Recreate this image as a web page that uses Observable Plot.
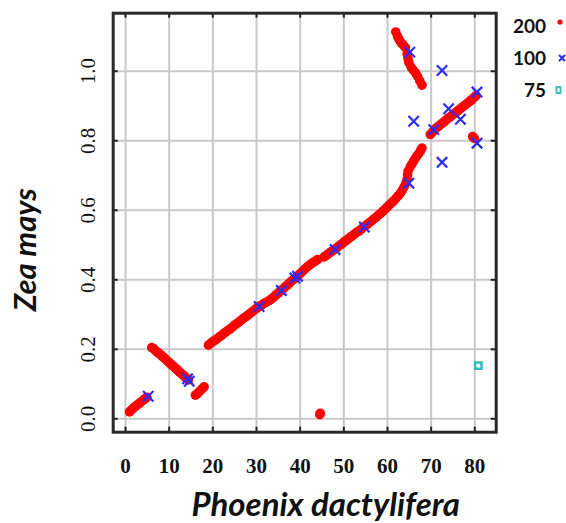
<!DOCTYPE html>
<html>
<head>
<meta charset="utf-8">
<script src="https://cdn.jsdelivr.net/npm/d3@7"></script>
<script src="https://cdn.jsdelivr.net/npm/@observablehq/plot@0.6"></script>
<style>
  html, body { margin: 0; padding: 0; background: #fff; }
  #wrap { position: relative; width: 566px; height: 523px; overflow: hidden; }
  g[aria-label="ytick"] text { letter-spacing: 5px; }
  g[aria-label="xtitle"] text { letter-spacing: 2.8px; word-spacing: -8px; }
  g[aria-label="ytitle"] text { letter-spacing: 2.5px; }
  .leg { position: absolute; font-family: Lato, sans-serif; font-weight: bold; font-size: 19px; color: #111; text-align: right; width: 41px; line-height: 20px; }
  .sym { position: absolute; }
</style>
</head>
<body>
<div id="wrap"></div>
<script>
const xTicks = [0, 10, 20, 30, 40, 50, 60, 70, 80];
const yTicks = [0, 0.2, 0.4, 0.6, 0.8, 1.0];
const seriesNames = ["200", "100", "75"];

// window size 200 (red dots)
const series200 = [
  [0.9,0.020],[1.3,0.025],[1.7,0.030],[2.1,0.034],[2.5,0.038],[2.9,0.042],[3.3,0.046],[3.7,0.050],[4.1,0.054],[4.5,0.058],[4.9,0.062],
  [6.0,0.205],[6.4,0.202],[6.8,0.197],[7.2,0.193],[7.6,0.188],[8.0,0.185],[8.4,0.180],[8.8,0.176],[9.2,0.171],[9.6,0.166],[10.0,0.162],
  [10.4,0.157],[10.8,0.153],[11.2,0.148],[11.6,0.144],[12.0,0.139],[12.4,0.134],[12.8,0.130],[13.2,0.126],[13.6,0.121],[14.0,0.116],[14.4,0.112],
  [16.0,0.068],[16.4,0.072],[16.8,0.077],[17.2,0.082],[17.6,0.087],[18.0,0.092],
  [19.0,0.212],[19.5,0.217],[20.0,0.222],[20.5,0.226],[21.0,0.231],[21.5,0.236],[22.0,0.240],[22.5,0.245],[23.0,0.250],[23.5,0.255],
  [24.0,0.259],[24.5,0.264],[25.0,0.270],[25.5,0.274],[26.0,0.279],[26.5,0.284],[27.0,0.289],[27.5,0.293],[28.0,0.298],[28.5,0.303],
  [29.0,0.308],[29.5,0.313],[30.0,0.318],[30.5,0.322],[31.0,0.326],[31.5,0.330],[32.0,0.334],[32.5,0.337],[33.0,0.341],[33.5,0.346],
  [34.0,0.351],[34.5,0.357],[35.0,0.362],[35.5,0.368],[36.0,0.373],[36.5,0.379],[37.0,0.384],[37.5,0.390],[38.0,0.396],[38.5,0.401],
  [39.0,0.406],[39.5,0.412],[40.0,0.418],[40.5,0.424],[41.0,0.430],[41.5,0.436],[42.0,0.441],[42.5,0.446],[43.0,0.450],[43.5,0.454],
  [44.0,0.458],[45.5,0.466],[46.0,0.470],[46.5,0.475],[47.0,0.480],[47.5,0.484],[48.0,0.488],[48.5,0.493],[49.0,0.498],[49.5,0.503],
  [50.0,0.508],[50.5,0.513],[51.0,0.518],[51.5,0.523],[52.0,0.527],[52.5,0.532],[53.0,0.537],[53.5,0.541],[54.0,0.546],[54.5,0.551],
  [55.0,0.556],[55.5,0.561],[56.0,0.566],[56.5,0.571],[57.0,0.576],[57.5,0.581],[58.0,0.587],[58.5,0.592],[59.0,0.598],[59.5,0.604],
  [60.0,0.610],[60.5,0.616],[61.0,0.622],[61.5,0.628],[62.0,0.635],[62.5,0.642],[63.0,0.650],[63.4,0.658],[63.8,0.667],[64.2,0.678],
  [64.5,0.690],[64.6,0.702],[64.7,0.712],[65.2,0.725],[65.6,0.733],[66.0,0.742],[66.4,0.750],[66.8,0.757],[67.2,0.764],[67.6,0.772],[67.9,0.779],
  [61.9,1.113],[62.3,1.100],[62.7,1.090],[63.1,1.082],[63.6,1.076],[64.1,1.068],[64.5,1.050],[64.7,1.036],[64.9,1.025],[65.4,1.012],
  [65.9,1.003],[66.4,0.995],[66.9,0.985],[67.4,0.972],[67.9,0.960],
  [69.8,0.818],[70.3,0.825],[70.8,0.832],[71.3,0.838],[71.8,0.843],[72.3,0.848],[72.8,0.853],[73.3,0.858],[73.8,0.864],[74.3,0.868],
  [74.8,0.873],[75.3,0.878],[75.8,0.883],[76.3,0.888],[76.8,0.893],[77.3,0.898],[77.8,0.903],[78.3,0.908],[78.8,0.913],[79.3,0.918],
  [79.8,0.924],[80.3,0.930],
  [79.5,0.812],[79.9,0.807],
  [44.5,0.012],[44.6,0.016]
];

// window size 100 (blue crosses)
const series100 = [
  [5.2,0.065],[14.2,0.115],[14.6,0.108],[30.6,0.323],[35.7,0.369],[38.8,0.405],[39.4,0.410],[48.0,0.487],[54.7,0.552],
  [64.9,0.678],[65.1,1.055],[72.5,1.002],[66.0,0.856],[74.0,0.892],[76.7,0.862],[70.6,0.832],[72.5,0.738],[80.5,0.940],[80.5,0.793]
];

// window size 75 (cyan squares)
const series75 = [[80.8,0.153]];

const W = 566, H = 523;
const mL = 112.7, mR = 70.3, mT = 12.7, mB = 91.3;
const frameH = H - mT - mB, frameW = W - mL - mR;
const tickLen = 5;

const chart = Plot.plot({
  width: W, height: H,
  marginLeft: mL, marginRight: mR, marginTop: mT, marginBottom: mB,
  x: {domain: [-2.82, 84.9], axis: null},
  y: {domain: [-0.0385, 1.167], axis: null},
  style: {background: "#fff", overflow: "visible"},
  marks: [
    Plot.ruleX(xTicks, {x: d => d, stroke: "#c9c9c9", strokeWidth: 2}),
    Plot.ruleY(yTicks, {y: d => d, stroke: "#c9c9c9", strokeWidth: 2}),
    Plot.ruleX(xTicks, {x: d => d, stroke: "#222", strokeWidth: 2, insetBottom: frameH - tickLen}),
    Plot.ruleX(xTicks, {x: d => d, stroke: "#222", strokeWidth: 2, insetTop: frameH - tickLen}),
    Plot.ruleY(yTicks, {y: d => d, stroke: "#222", strokeWidth: 2, insetRight: frameW - tickLen}),
    Plot.ruleY(yTicks, {y: d => d, stroke: "#222", strokeWidth: 2, insetLeft: frameW - tickLen}),
    Plot.frame({stroke: "#2a2a2a", strokeWidth: 3}),
    Plot.dot(series200, {x: d => d[0], y: d => d[1], r: 4.8, fill: "#ff0000", stroke: "none"}),
    Plot.dot(series100, {x: d => d[0], y: d => d[1], symbol: "times", r: 4.8, stroke: "#2b2bff", strokeWidth: 2.2}),
    Plot.dot(series75, {x: d => d[0], y: d => d[1], symbol: "square", r: 3.6, stroke: "#2fbcbc", strokeWidth: 2.5, fill: "none"}),
    Plot.text(xTicks, {x: d => d, frameAnchor: "bottom", dy: 34.5, text: d => String(d), lineAnchor: "middle", textAnchor: "middle",
      fontFamily: "Liberation Serif", fontWeight: "bold", fontSize: 21, fill: "#111"}),
    Plot.text(yTicks, {y: d => d, frameAnchor: "left", dx: -24.7, rotate: -90, text: d => d.toFixed(1), lineAnchor: "middle", textAnchor: "middle",
      fontFamily: "Liberation Serif", fontSize: 21, fill: "#111", ariaLabel: "ytick"}),
    Plot.text(["Phoenix dactylifera"], {frameAnchor: "bottom", dx: 21, dy: 73, text: d => d, lineAnchor: "middle", textAnchor: "middle",
      fontFamily: "Lato", fontWeight: "bold", fontStyle: "italic", fontSize: 33, fill: "#111", ariaLabel: "xtitle"}),
    Plot.text(["Zea mays"], {frameAnchor: "left", dx: -86.7, dy: 27, rotate: -90, text: d => d, lineAnchor: "middle", textAnchor: "middle",
      fontFamily: "Lato", fontWeight: "bold", fontStyle: "italic", fontSize: 31, fill: "#111", ariaLabel: "ytitle"})
  ]
});

const wrap = document.getElementById("wrap");
wrap.appendChild(chart);

// legend (HTML overlay)
const legendPos = [
  {top: 16, sym: "dot"},
  {top: 48, sym: "times"},
  {top: 80, sym: "square"}
];
seriesNames.forEach((name, i) => {
  const lab = document.createElement("div");
  lab.className = "leg";
  lab.style.left = "505px";
  lab.style.top = legendPos[i].top + "px";
  lab.textContent = name;
  wrap.appendChild(lab);
  const s = document.createElementNS("http://www.w3.org/2000/svg", "svg");
  s.setAttribute("class", "sym");
  s.setAttribute("width", 14); s.setAttribute("height", 14);
  s.style.left = "553px";
  s.style.top = (legendPos[i].top + (i === 0 ? 0 : 3)) + "px";
  let el;
  if (legendPos[i].sym === "dot") {
    el = document.createElementNS("http://www.w3.org/2000/svg", "circle");
    el.setAttribute("cx", 7); el.setAttribute("cy", 6); el.setAttribute("r", 2.6); el.setAttribute("fill", "#ff0000");
  } else if (legendPos[i].sym === "times") {
    el = document.createElementNS("http://www.w3.org/2000/svg", "path");
    el.setAttribute("d", "M6,4L12,10M12,4L6,10"); el.setAttribute("stroke", "#2b2bff"); el.setAttribute("stroke-width", 2);
  } else {
    el = document.createElementNS("http://www.w3.org/2000/svg", "rect");
    el.setAttribute("x", 3.5); el.setAttribute("y", 4); el.setAttribute("width", 4); el.setAttribute("height", 6);
    el.setAttribute("fill", "none"); el.setAttribute("stroke", "#2fbcbc"); el.setAttribute("stroke-width", 1.8);
  }
  s.appendChild(el);
  wrap.appendChild(s);
});
</script>
</body>
</html>
